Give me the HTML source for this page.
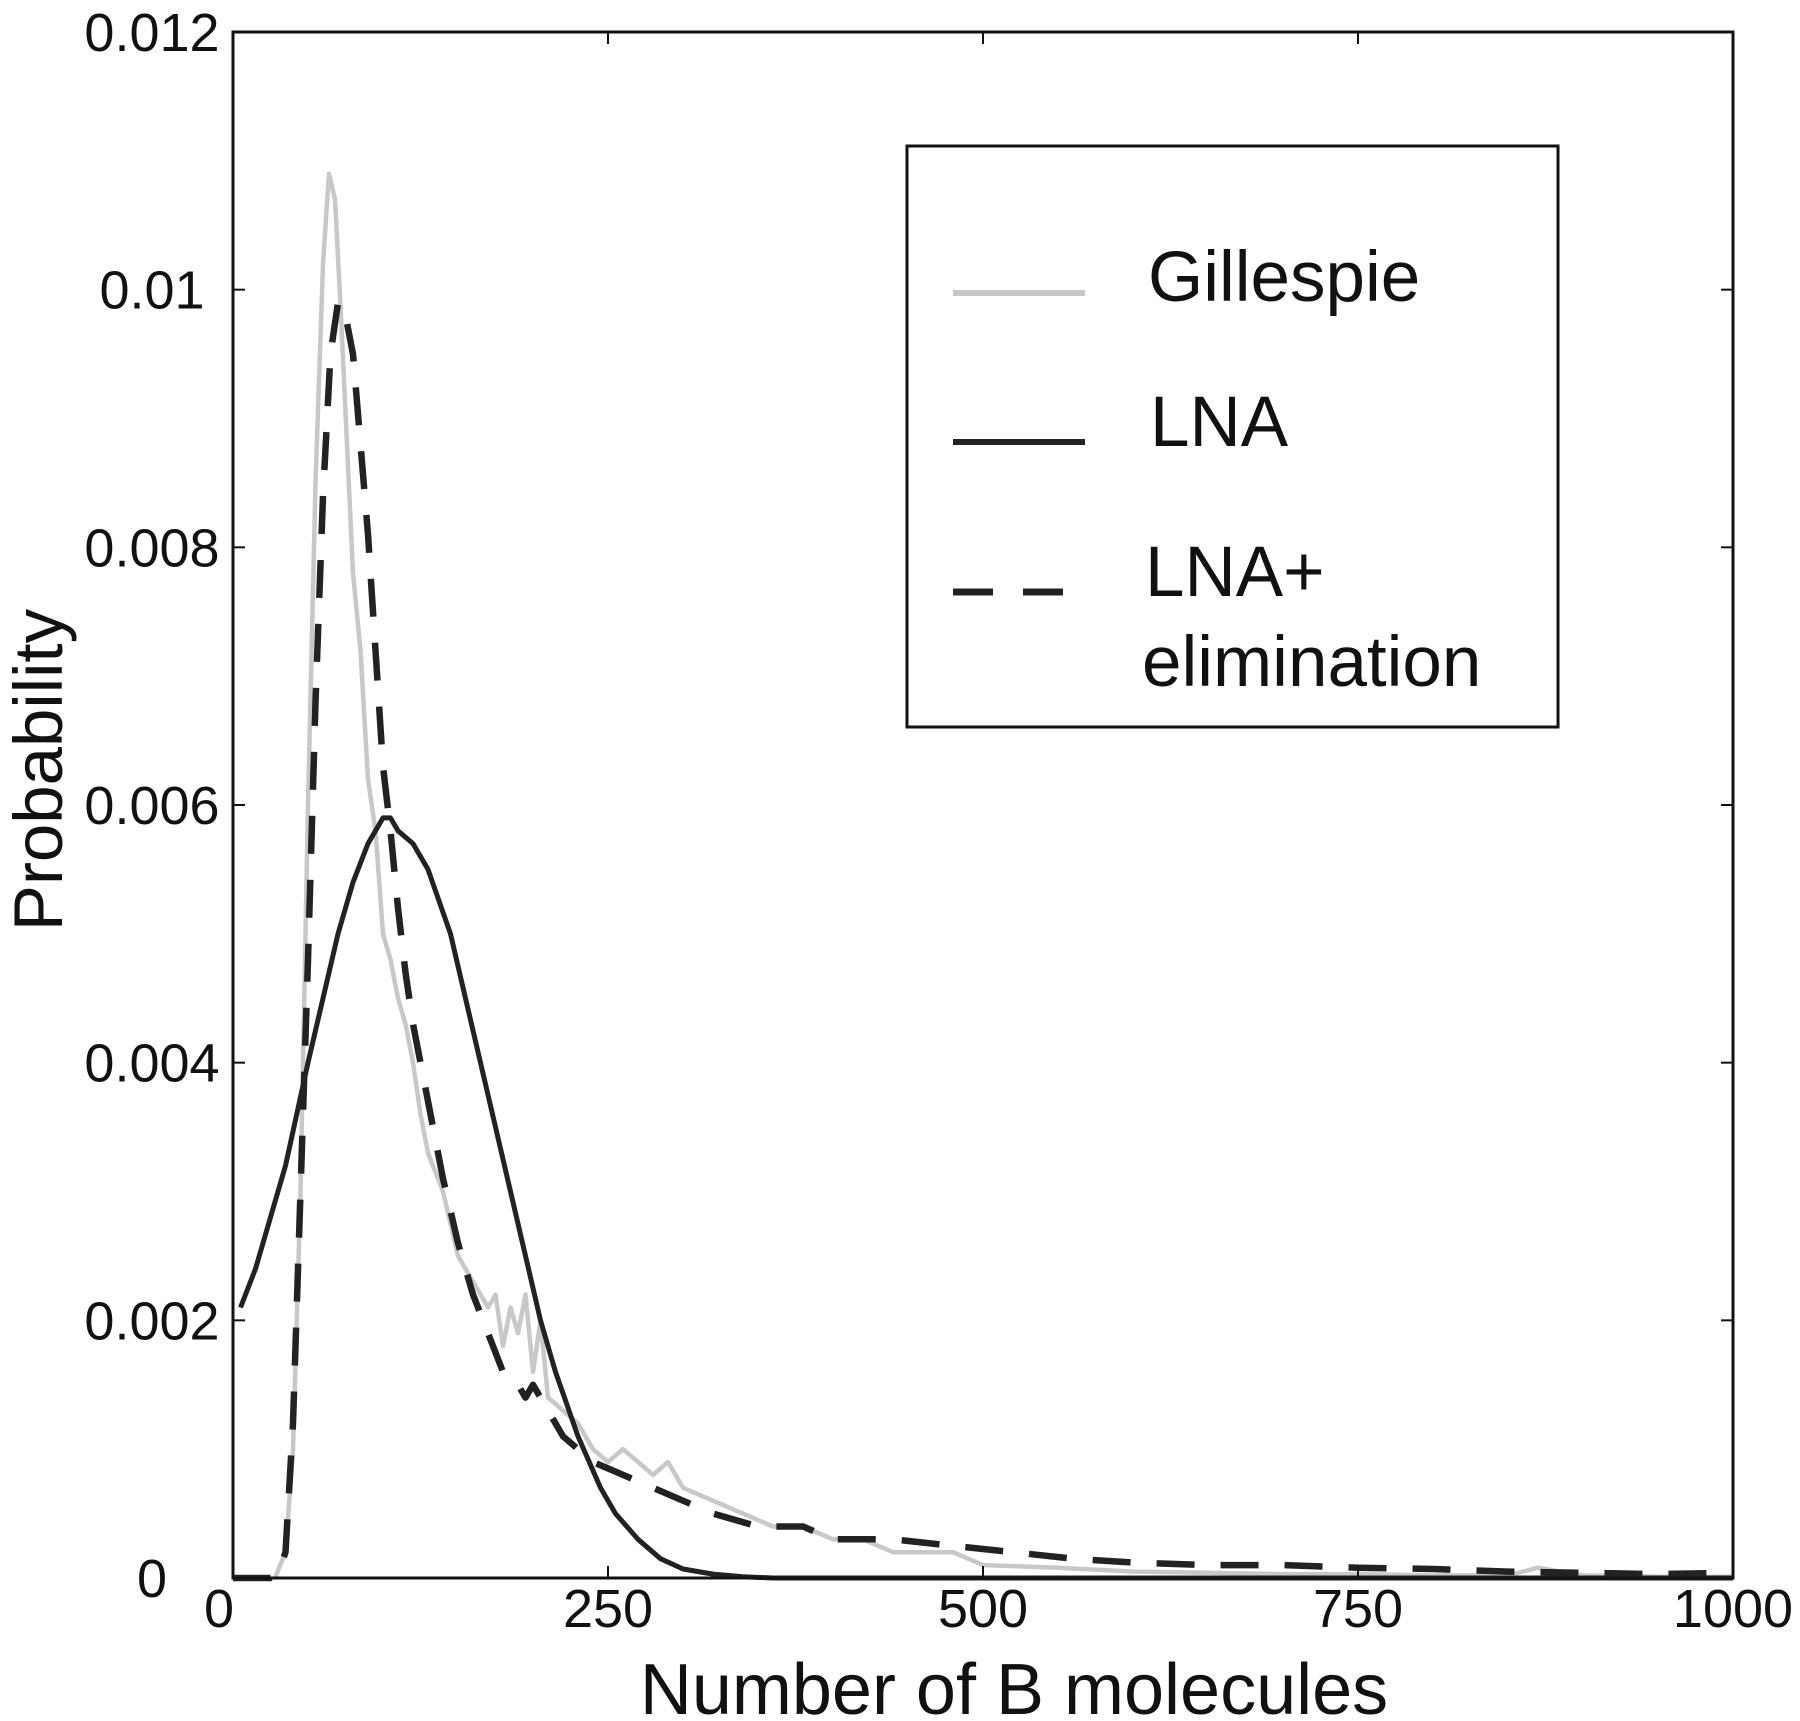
<!DOCTYPE html>
<html><head><meta charset="utf-8"><style>
html,body{margin:0;padding:0;background:#fff;width:1800px;height:1721px;overflow:hidden}
svg text{font-family:"Liberation Sans",sans-serif;fill:#111}
</style></head><body>
<svg id="chart" width="1800" height="1721" viewBox="0 0 1800 1721" xmlns="http://www.w3.org/2000/svg">
<g id="marks"></g>
<rect x="233" y="32" width="1500" height="1546" fill="none" stroke="#111" stroke-width="3"/>
<g id="ticks"></g>
<text x="1014" y="1714" font-size="72" text-anchor="middle">Number of B molecules</text>
<text x="62" y="770" font-size="69" text-anchor="middle" transform="rotate(-90 62 770)">Probability</text>
<g>
<rect x="907" y="146" width="651" height="581" fill="#fff" stroke="#111" stroke-width="3"/>
<line x1="953" y1="293" x2="1085" y2="293" stroke="#c8c8c8" stroke-width="6"/>
<text x="1148" y="301" font-size="71">Gillespie</text>
<line x1="953" y1="442" x2="1085" y2="442" stroke="#222" stroke-width="6"/>
<text x="1150" y="446" font-size="71">LNA</text>
<line x1="953" y1="592" x2="1085" y2="592" stroke="#222" stroke-width="7" stroke-dasharray="40,30"/>
<text x="1145" y="596" font-size="71">LNA+</text>
<text x="1142" y="686" font-size="71">elimination</text>
</g>
</svg>
<script>
const xTicks=[0,250,500,750,1000];
const yTicks=[0,0.002,0.004,0.006,0.008,0.01,0.012];
const yTickLabels=["0","0.002","0.004","0.006","0.008","0.01","0.012"];
const gilX=[28,35,40,45,50,55,60,64,68,72,76,80,85,90,95,100,105,110,115,120,125,130,140,150,160,170,175,180,185,190,195,200,205,210,220,230,240,250,260,270,280,290,300,320,340,360,380,400,420,440,460,480,500,550,600,650,700,750,800,850,870,900,950,1000];
const gilY=[0,0.0002,0.001,0.003,0.006,0.0085,0.0102,0.0109,0.0107,0.0098,0.0088,0.0078,0.0072,0.0062,0.0058,0.0050,0.0048,0.0045,0.0043,0.0040,0.0036,0.0033,0.0030,0.0025,0.0023,0.0021,0.0022,0.0018,0.0021,0.0019,0.0022,0.0016,0.0020,0.0014,0.0013,0.0012,0.0010,0.0009,0.0010,0.0009,0.0008,0.0009,0.0007,0.0006,0.0005,0.0004,0.0004,0.0003,0.0003,0.0002,0.0002,0.0002,0.0001,0.00008,0.00005,0.00004,0.00003,0.00003,0.00002,0.00002,0.00008,0.00002,0.00001,0.00001];
const lnaX=[5,15,25,35,50,60,70,80,90,100,105,110,120,130,145,155,165,175,185,195,205,215,230,245,255,270,285,300,320,340,360,400,500,700,1000];
const lnaY=[0.0021,0.0024,0.0028,0.0032,0.0040,0.0045,0.0050,0.0054,0.0057,0.0059,0.0059,0.0058,0.0057,0.0055,0.0050,0.0045,0.0040,0.0035,0.0030,0.0025,0.0020,0.0016,0.0011,0.0007,0.0005,0.0003,0.00015,0.00007,0.00003,0.00001,0,0,0,0,0];
const elimX=[0,25,30,35,40,45,50,55,60,65,70,75,80,85,90,95,100,105,110,115,120,130,140,150,160,170,180,190,195,200,210,220,230,240,260,280,300,320,350,380,400,440,480,520,560,600,650,700,750,800,850,900,950,1000];
const elimY=[0,0,0.00003,0.0002,0.0012,0.003,0.0048,0.0068,0.0084,0.0095,0.0099,0.0098,0.0095,0.0088,0.0081,0.0072,0.0063,0.0058,0.0052,0.0047,0.0043,0.0037,0.0031,0.0026,0.0022,0.0019,0.0016,0.0015,0.0014,0.0015,0.0013,0.0011,0.0010,0.0009,0.0008,0.0007,0.0006,0.0005,0.0004,0.0004,0.0003,0.0003,0.00025,0.0002,0.00015,0.00012,0.0001,0.0001,0.00008,0.00007,0.00005,0.00004,0.00003,0.00004];
const X0=233,X1=1733,Y0=1578,Y1=32;
function sx(v){return X0+(v-0)/(1000-0)*(X1-X0);}
function sy(v){return Y0-(v-0)/(0.012-0)*(Y0-Y1);}
const NS="http://www.w3.org/2000/svg";
const marks=document.getElementById('marks');
const ticks=document.getElementById('ticks');
function path(xs,ys,stroke,w,dash,name){
  const p=document.createElementNS(NS,'path');
  p.setAttribute('d',xs.map((x,i)=>(i?'L':'M')+sx(x).toFixed(1)+','+sy(ys[i]).toFixed(1)).join(''));
  p.setAttribute('fill','none');p.setAttribute('stroke',stroke);p.setAttribute('stroke-width',w);
  p.setAttribute('stroke-linejoin','round');
  if(dash)p.setAttribute('stroke-dasharray',dash);
  
  
  marks.appendChild(p);
}
path(gilX,gilY,'#c8c8c8',4.5,null,'gillespie-line');
path(lnaX,lnaY,'#222',5,null,'lna-line');
path(elimX,elimY,'#222',6.5,'38,26','lna-elimination-line');
xTicks.forEach(v=>{
  const x=sx(v);
  [[Y0,Y0-12],[Y1,Y1+12]].forEach(([a,b])=>{
    const l=document.createElementNS(NS,'line');
    l.setAttribute('x1',x);l.setAttribute('x2',x);l.setAttribute('y1',a);l.setAttribute('y2',b);
    l.setAttribute('stroke','#111');l.setAttribute('stroke-width',2);
    
    
    ticks.appendChild(l);
  });
  const t=document.createElementNS(NS,'text');
  t.setAttribute('x',v===0?x-14:x);t.setAttribute('y',1627);t.setAttribute('font-size',54);t.setAttribute('text-anchor','middle');
  t.textContent=v;
  
  
  ticks.appendChild(t);
});
yTicks.forEach((v,i)=>{
  const y=sy(v);
  [[X0,X0+12],[X1,X1-12]].forEach(([a,b])=>{
    const l=document.createElementNS(NS,'line');
    l.setAttribute('x1',a);l.setAttribute('x2',b);l.setAttribute('y1',y);l.setAttribute('y2',y);
    l.setAttribute('stroke','#111');l.setAttribute('stroke-width',2);
    
    
    ticks.appendChild(l);
  });
  const t=document.createElementNS(NS,'text');
  t.setAttribute('x',152);t.setAttribute('y',y+19);t.setAttribute('font-size',54);t.setAttribute('text-anchor','middle');
  t.textContent=yTickLabels[i];
  
  
  ticks.appendChild(t);
});
</script>
</body></html>
